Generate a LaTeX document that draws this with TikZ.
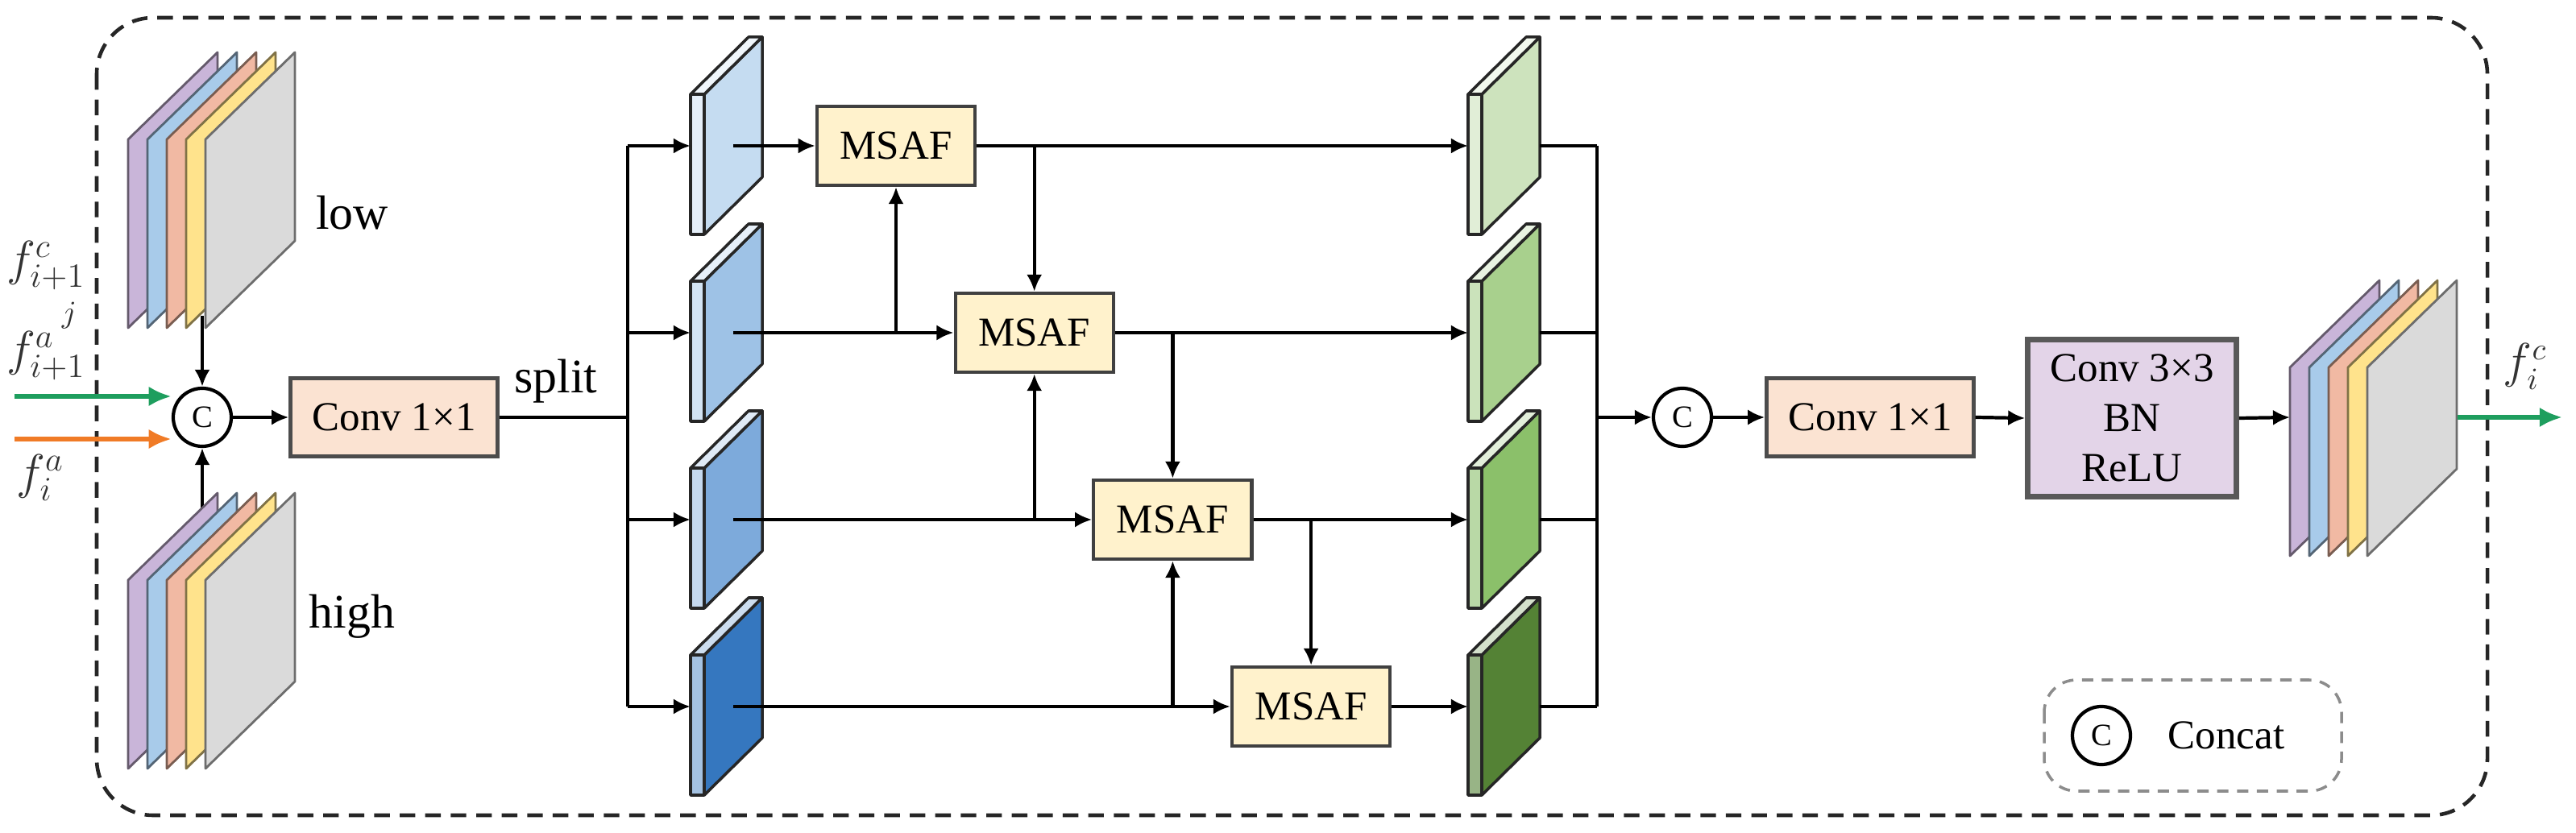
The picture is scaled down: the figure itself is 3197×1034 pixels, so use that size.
\documentclass[tikz,border=0pt]{standalone}
\usepackage{fontspec}
\setmainfont{Liberation Serif}
\usetikzlibrary{arrows.meta}
%
\definecolor{lyrpurple}{HTML}{C9B5D9}
\definecolor{lyrblue}{HTML}{A8CBEA}
\definecolor{lyrsalmon}{HTML}{F1B9A3}
\definecolor{lyryellow}{HTML}{FFE38C}
\definecolor{lyrgray}{HTML}{DADADA}
\definecolor{blueA}{HTML}{C5DCF1}
\definecolor{blueB}{HTML}{9EC2E6}
\definecolor{blueC}{HTML}{7DAADB}
\definecolor{blueD}{HTML}{3577BF}
\definecolor{greenA}{HTML}{CDE3BD}
\definecolor{greenB}{HTML}{A8D08D}
\definecolor{greenC}{HTML}{8BC06A}
\definecolor{greenD}{HTML}{548235}
\definecolor{msafyellow}{HTML}{FFF2CC}
\definecolor{convpeach}{HTML}{FBE3D2}
\definecolor{cbrlilac}{HTML}{E3D4E8}
\definecolor{ingreen}{HTML}{1E9E5E}
\definecolor{inorange}{HTML}{F07B26}
%
\begin{document}
\begin{tikzpicture}
[
 x=0.01cm, y=-0.01cm,
 LINE/.style={line width=1.2pt},
 ARR/.style={-{Latex[length=6pt,width=5.5pt]}, line width=1.2pt},
 INARR/.style={-{Latex[length=8pt,width=7pt]}, line width=1.6pt},
 BORDER/.style={draw=black!85, line width=1.3pt, dash pattern=on 5.5pt off 3.5pt, rounded corners=7mm},
 LEGEND/.style={draw=black!45, line width=1pt, dash pattern=on 4pt off 3pt, rounded corners=4mm},
 LAYER/.style={line width=0.8pt, line join=round},
 SLAB/.style={draw=black!85, line width=1pt, line join=round},
 CAT/.style={circle, draw=black, line width=1.2pt, minimum size=7.2mm, inner sep=0pt, font=\fontsize{11}{13}\selectfont},
 CONV/.style={rectangle, draw=black!70, fill=convpeach, line width=1.2pt, minimum width=25.7mm, minimum height=9.7mm, font=\fontsize{14.5}{17}\selectfont},
 MSAFBOX/.style={rectangle, draw=black!75, fill=msafyellow, line width=1.2pt, minimum width=19.6mm, minimum height=9.8mm, font=\fontsize{14.5}{17}\selectfont},
 CBR/.style={rectangle, draw=black!65, fill=cbrlilac, line width=1.8pt, minimum width=25.9mm, minimum height=19.5mm, align=center, font=\fontsize{14.5}{17.6}\selectfont},
 LBL/.style={font=\fontsize{17}{20}\selectfont},
 MLBL/.style={text=black!80, font=\fontsize{17}{20}\selectfont},
 ]
\useasboundingbox (0,0) rectangle (3197,1034);
%
\draw [BORDER] (120,22) rectangle (3087,1012);
%
\node [CAT]  (C1)  at (251,518)  {C};
\node [CONV] (CV1) at (489,518)  {Conv 1×1};
\node [LBL]  (SPL) at (690,473)  {split};
%
\coordinate (INA) at (18,492);
\coordinate (INB) at (18,545);
\coordinate (LOWOUT)  at (251,392);
\coordinate (HIGHOUT) at (251,680);
%
% low/high feeds run behind the stacks
\draw [ARR]  (LOWOUT)  -- (C1.north);
\draw [ARR]  (HIGHOUT) -- (C1.south);
%
% feature stacks: low, high, output
\foreach \sx/\sy in {159/407, 159/954, 2842/690}
  \foreach \i/\fc in {0/lyrpurple,1/lyrblue,2/lyrsalmon,3/lyryellow,4/lyrgray}
  {
    \draw [LAYER, fill=\fc, draw=\fc!50!black] (\sx+24*\i,\sy) -- ++(0,-234) -- ++(111,-108) -- ++(0,234) -- cycle;
  }
%
\node [LBL]  (LOW)  at (437,264)  {low};
\node [LBL]  (HIGH) at (437,765)  {high};
%
\node [MLBL] (FC)  at (57,330)  {$f_{i+1}^{c}$};
\node [text=black!80, font=\fontsize{11}{12}\selectfont] (FJ) at (86,392) {$j$};
\node [MLBL] (FA1) at (57,442)  {$f_{i+1}^{a}$};
\node [MLBL] (FA)  at (50,593)  {$f_{i}^{a}$};
%
\draw [INARR, ingreen]  (INA) -- (INA -| C1.west);
\draw [INARR, inorange] (INB) -- (INB -| C1.west);
\draw [ARR]  (C1.east) -- (CV1.west);
%
% split branches, MSAF chain, merged branches
\foreach \k/\bc/\gc in {0/blueA/greenA, 1/blueB/greenB, 2/blueC/greenC, 3/blueD/greenD}
{
  \pgfmathsetmacro{\ypos}{181+232*\k}
  \pgfmathsetmacro{\xpos}{1112+171.7*\k}
  % blue slab
  \draw [SLAB, fill=\bc]        (874,\ypos-64) -- ++(72,-71) -- ++(0,174) -- ++(-72,71) -- cycle;
  \draw [SLAB, fill=\bc!25]     (857,\ypos-64) -- ++(72,-71) -- ++(17,0) -- ++(-72,71) -- cycle;
  \draw [SLAB, fill=\bc!45]     (857,\ypos-64) rectangle ++(17,174);
  % green slab
  \draw [SLAB, fill=\gc]        (1839,\ypos-64) -- ++(72,-71) -- ++(0,174) -- ++(-72,71) -- cycle;
  \draw [SLAB, fill=\gc!25]     (1822,\ypos-64) -- ++(72,-71) -- ++(17,0) -- ++(-72,71) -- cycle;
  \draw [SLAB, fill=\gc!60]     (1822,\ypos-64) rectangle ++(17,174);
  %
  \coordinate (S\k)  at (779,\ypos);
  \coordinate (BI\k) at (857,\ypos);
  \coordinate (BO\k) at (910,\ypos);
  \coordinate (GI\k) at (1822,\ypos);
  \coordinate (GO\k) at (1911,\ypos);
  \coordinate (J\k)  at (1982,\ypos);
  \node [MSAFBOX] (M\k) at (\xpos,\ypos) {MSAF};
}
%
\draw [LINE] (CV1.east) -- (CV1.east -| S0);
\draw [LINE] (S0) -- (S3);
\foreach \k in {0,1,2,3}
{
  \draw [ARR]  (S\k)  -- (BI\k);
  \draw [ARR]  (BO\k) -- (M\k.west);
  \draw [ARR]  (M\k.east) -- (GI\k);
  \draw [LINE] (GO\k) -- (J\k);
}
\foreach \k in {0,1,2}
{
  \pgfmathsetmacro{\n}{int(\k+1)}
  \draw [ARR]  (M\k.east -| M\n.north) -- (M\n.north);
  \draw [ARR]  (M\n.west -| M\k.south) -- (M\k.south);
}
\draw [LINE] (J0) -- (J3);
%
\node [CAT]  (C2)  at (2088,518)  {C};
\node [CONV] (CV2) at (2321,518)  {Conv 1×1};
\node [CBR]  (CB)  at (2646,519)  {Conv 3×3\\BN\\ReLU};
%
\coordinate (OIN)  at (2842,518);
\coordinate (OOUT) at (3050,518);
\coordinate (OEND) at (3180,518);
%
\draw [ARR]  (C2.west -| J0) -- (C2.west);
\draw [ARR]  (C2.east)  -- (CV2.west);
\draw [ARR]  (CV2.east) -- (CB.west);
\draw [ARR]  (CB.east)  -- (OIN);
\draw [INARR, ingreen] (OOUT) -- (OEND);
\node [MLBL, font=\fontsize{16}{19}\selectfont] (FO) at (3134,455) {$f_{i}^{c}$};
%
% legend
\draw [LEGEND] (2537,844) rectangle (2906,982);
\node [CAT] (LC) at (2608,913) {C};
\node [font=\fontsize{14.5}{17}\selectfont] (LT) at (2763,913) {Concat};
%
\end{tikzpicture}
\end{document}
